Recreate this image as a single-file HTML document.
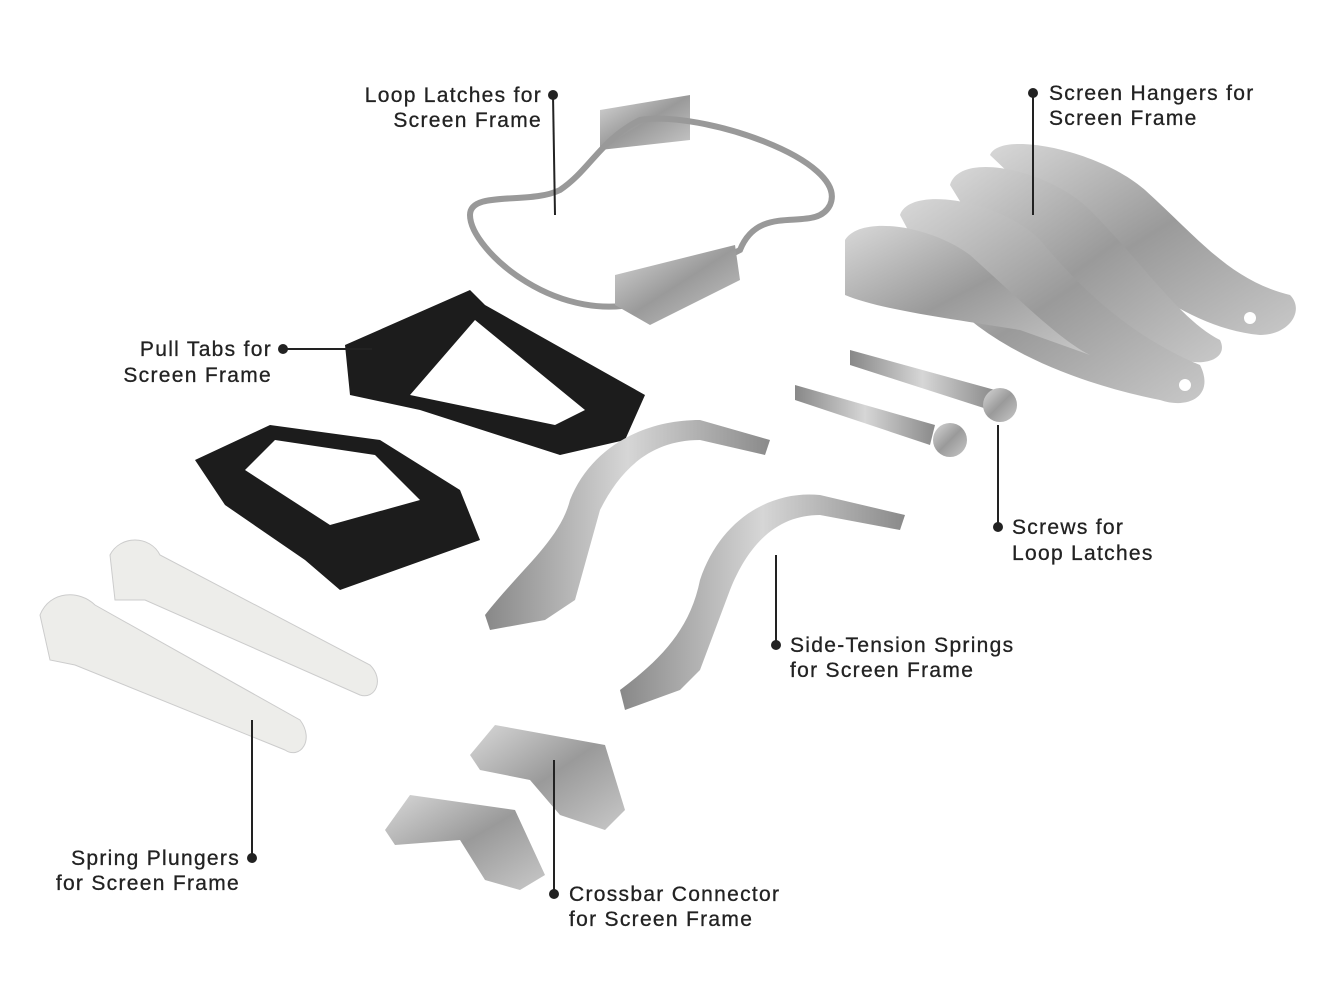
<!DOCTYPE html>
<html><head><meta charset="utf-8"><style>
html,body{margin:0;padding:0;background:#fff;}
svg{display:block}
text{font-family:"Liberation Sans",sans-serif;font-size:21px;fill:#222;letter-spacing:1.3px;stroke:#222;stroke-width:0.3px}
</style></head><body>
<svg width="1339" height="1000" viewBox="0 0 1339 1000" xmlns="http://www.w3.org/2000/svg">
<defs>
<linearGradient id="m" x1="0" y1="0" x2="1" y2="1"><stop offset="0" stop-color="#d8d8d8"/><stop offset=".5" stop-color="#9a9a9a"/><stop offset="1" stop-color="#c8c8c8"/></linearGradient>
<linearGradient id="m2" x1="0" y1="0" x2="1" y2="0"><stop offset="0" stop-color="#888"/><stop offset=".5" stop-color="#d6d6d6"/><stop offset="1" stop-color="#8a8a8a"/></linearGradient>
</defs>
<!-- loop latch -->
<path d="M600 110 L690 95 L690 140 L600 150 Z" fill="url(#m)"/>
<path d="M640 120 C700 110 850 160 830 205 C815 235 760 200 740 250 L700 270 L650 300 C560 330 470 250 470 215 C470 190 530 205 560 190 C590 170 600 140 640 120 Z" fill="none" stroke="#999" stroke-width="6"/>
<path d="M615 275 L735 245 L740 280 L650 325 L615 305 Z" fill="url(#m)"/>
<!-- screen hangers -->
<path d="M990 155 C1000 130 1100 150 1145 190 C1200 240 1230 280 1290 295 C1305 310 1290 335 1260 335 C1200 330 1150 290 1100 260 Z" fill="url(#m)"/>
<path d="M950 185 C960 150 1050 170 1090 210 C1140 260 1180 320 1220 340 C1230 360 1200 370 1170 355 C1100 330 1040 290 990 250 Z" fill="url(#m)"/>
<path d="M900 215 C910 185 1000 200 1040 240 C1090 300 1140 340 1200 365 C1215 395 1190 410 1160 400 C1060 380 980 340 940 290 Z" fill="url(#m)"/>
<path d="M845 240 C860 215 930 225 970 255 C1020 300 1060 340 1090 355 L1020 330 C960 320 880 310 845 295 Z" fill="url(#m)"/>
<circle cx="1250" cy="318" r="6" fill="#fff"/><circle cx="1185" cy="385" r="6" fill="#fff"/>
<!-- pull tabs -->
<path d="M345 345 L470 290 L485 305 L645 395 L625 440 L560 455 L420 410 L350 395 Z" fill="#1c1c1c"/>
<path d="M410 395 L475 320 L585 410 L555 425 Z" fill="#fff"/>
<path d="M195 460 L270 425 L380 440 L460 490 L480 540 L340 590 L305 560 L225 505 Z" fill="#1c1c1c"/>
<path d="M245 470 L275 440 L375 455 L420 500 L330 525 Z" fill="#fff"/>
<!-- screws -->
<path d="M850 350 L995 390 L990 410 L850 365 Z" fill="url(#m2)"/>
<circle cx="1000" cy="405" r="17" fill="url(#m)"/>
<path d="M795 385 L935 425 L930 445 L795 400 Z" fill="url(#m2)"/>
<circle cx="950" cy="440" r="17" fill="url(#m)"/>
<!-- springs -->
<path d="M485 615 C520 570 560 540 570 500 C590 450 640 420 700 420 L770 440 L765 455 L700 440 C650 440 620 470 600 510 L575 600 L545 620 L490 630 Z" fill="url(#m2)"/>
<path d="M620 690 C660 660 690 630 700 580 C720 520 770 490 820 495 L905 515 L900 530 L820 515 C780 515 750 540 730 590 L700 670 L680 690 L625 710 Z" fill="url(#m2)"/>
<!-- plungers -->
<path d="M110 555 C120 535 150 535 160 555 L370 665 C385 680 375 700 360 695 L145 600 L115 600 Z" fill="#ededea" stroke="#ccc"/>
<path d="M40 615 C50 590 80 590 95 605 L300 720 C315 740 300 760 285 750 L75 665 L50 660 Z" fill="#ededea" stroke="#ccc"/>
<!-- crossbar connectors -->
<path d="M470 755 L495 725 L605 745 L625 810 L605 830 L560 815 L530 780 L480 770 Z" fill="url(#m)"/>
<path d="M385 830 L410 795 L515 810 L545 875 L520 890 L485 880 L460 840 L395 845 Z" fill="url(#m)"/>
<!-- leaders -->
<g stroke="#222" stroke-width="2" fill="none">
<line x1="553" y1="95" x2="555" y2="215"/>
<line x1="1033" y1="93" x2="1033" y2="215"/>
<line x1="283" y1="349" x2="372" y2="349"/>
<line x1="998" y1="527" x2="998" y2="425"/>
<line x1="776" y1="645" x2="776" y2="555"/>
<line x1="252" y1="858" x2="252" y2="720"/>
<line x1="554" y1="894" x2="554" y2="760"/>
</g>
<g fill="#222">
<circle cx="553" cy="95" r="5"/><circle cx="1033" cy="93" r="5"/><circle cx="283" cy="349" r="5"/>
<circle cx="998" cy="527" r="5"/><circle cx="776" cy="645" r="5"/><circle cx="252" cy="858" r="5"/><circle cx="554" cy="894" r="5"/>
</g>
<text x="542" y="102" text-anchor="end">Loop Latches for</text>
<text x="542" y="127" text-anchor="end">Screen Frame</text>
<text x="1049" y="100">Screen Hangers for</text>
<text x="1049" y="125">Screen Frame</text>
<text x="272" y="356" text-anchor="end">Pull Tabs for</text>
<text x="272" y="382" text-anchor="end">Screen Frame</text>
<text x="1012" y="534">Screws for</text>
<text x="1012" y="560">Loop Latches</text>
<text x="790" y="652">Side-Tension Springs</text>
<text x="790" y="677">for Screen Frame</text>
<text x="240" y="865" text-anchor="end">Spring Plungers</text>
<text x="240" y="890" text-anchor="end">for Screen Frame</text>
<text x="569" y="901">Crossbar Connector</text>
<text x="569" y="926">for Screen Frame</text>
</svg>
</body></html>
